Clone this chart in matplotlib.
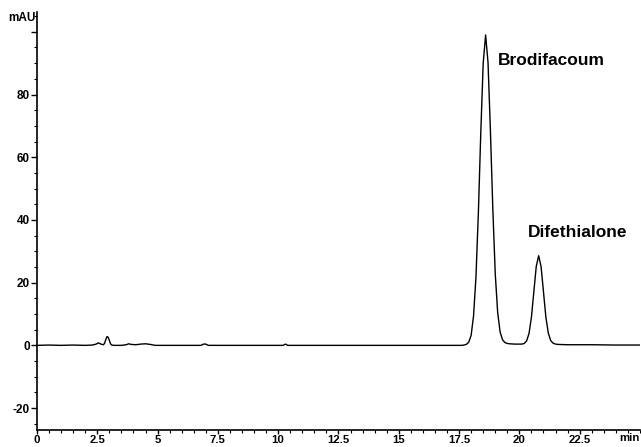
import matplotlib
matplotlib.use('Agg')
import matplotlib.pyplot as plt
from matplotlib.ticker import MultipleLocator

plt.rcParams['font.family'] = ['Liberation Sans', 'DejaVu Sans']

# chromatogram trace: time (min), signal (mAU)
time = [0.0, 0.5, 1.0, 1.5, 2.0, 2.3, 2.45, 2.55, 2.65, 2.75, 2.8, 2.85, 2.9, 2.95,
        3.0, 3.05, 3.1, 3.2, 3.5, 3.7, 3.8, 3.9, 4.1, 4.3, 4.5, 4.7, 4.9, 6.8,
        6.9, 7.0, 7.1, 10.2, 10.3, 10.4, 17.6, 17.7,
        17.8, 17.9, 18.0, 18.1, 18.2, 18.3, 18.4, 18.5, 18.6, 18.7, 18.8, 18.9,
        19.0, 19.1, 19.2, 19.3, 19.4, 19.5, 19.6, 19.8, 20.0, 20.1, 20.2, 20.3,
        20.4, 20.5, 20.6, 20.7, 20.8, 20.9, 21.0, 21.1, 21.2, 21.3, 21.4, 21.5,
        21.6, 22.0, 23.0, 24.0, 25.0]
signal = [0.0, 0.1, 0.0, 0.1, 0.0, 0.1, 0.4, 0.8, 0.4, 0.2, 0.6, 1.8, 2.8, 2.6,
          1.6, 0.5, 0.1, 0.0, 0.0, 0.2, 0.5, 0.3, 0.2, 0.4, 0.5, 0.3, 0.0, 0.0,
          0.4, 0.4, 0.0, 0.0, 0.4, 0.0, 0.0, 0.1,
          0.3, 1.0, 3.2, 9.4, 21.8, 42.3, 67.8, 90.0, 99.0, 90.2, 68.3, 43.3,
          22.8, 10.5, 4.3, 1.8, 0.9, 0.6, 0.5, 0.4, 0.4, 0.4, 0.6, 1.4,
          3.8, 9.0, 17.1, 25.2, 28.6, 25.1, 17.0, 8.9, 3.9, 1.5, 0.7, 0.4,
          0.3, 0.2, 0.2, 0.1, 0.1]

peak_names = ['Brodifacoum', 'Difethialone']
peak_label_pos = [(19.1, 91.0), (20.35, 36.0)]

fig = plt.figure(figsize=(6.41, 4.47), dpi=100)
ax = fig.add_axes([0.0577, 0.0380, 0.9407, 0.9350])

ax.plot(time, signal, color='black', lw=1.0)

ax.set_xlim(0, 25)
ax.set_ylim(-27, 106.3)

ax.spines['top'].set_visible(False)
ax.spines['right'].set_visible(False)
for s in ['left', 'bottom']:
    ax.spines[s].set_linewidth(1.2)

xticks = [0, 2.5, 5, 7.5, 10, 12.5, 15, 17.5, 20, 22.5]
ax.set_xticks(xticks)
ax.set_xticklabels(['0', '2.5', '5', '7.5', '10', '12.5', '15', '17.5', '20', '22.5'])
ax.xaxis.set_minor_locator(MultipleLocator(0.5))

yticks = [-20, 0, 20, 40, 60, 80, 100]
ax.set_yticks(yticks)
ax.set_yticklabels(['-20', '0', '20', '40', '60', '80', ''])
ax.yaxis.set_minor_locator(MultipleLocator(5))

ax.tick_params(which='major', length=4, width=1.0, pad=1, labelsize=8.5)
ax.tick_params(axis='x', which='major', length=3, pad=0.5, labelsize=8.2)
ax.tick_params(which='minor', length=2.5, width=0.8)
for lab in ax.get_xticklabels() + ax.get_yticklabels():
    lab.set_fontweight('bold')

ax.text(-0.002, 1.0, 'mAU', transform=ax.transAxes, ha='right', va='top',
        fontsize=8.5, fontweight='bold')
ax.text(1.0, -0.008, 'min', transform=ax.transAxes, ha='right', va='top',
        fontsize=8.2, fontweight='bold')

for name, (x, y) in zip(peak_names, peak_label_pos):
    ax.text(x, y, name, fontsize=12.5, fontweight='bold', ha='left', va='center')

fig.savefig('out.png', dpi=100)
